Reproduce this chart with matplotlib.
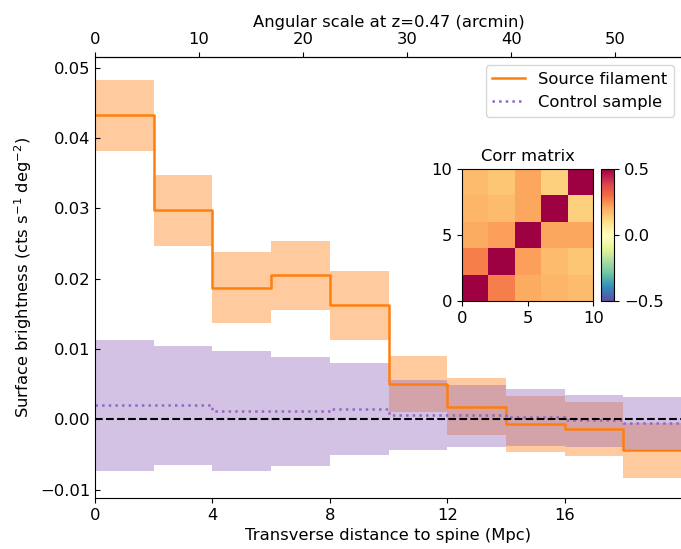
import numpy as np
import matplotlib
matplotlib.use("Agg")
import matplotlib.pyplot as plt

# Data
bin_edges = [0, 2, 4, 6, 8, 10, 12, 14, 16, 18, 20]
source_sb = [0.0432, 0.0297, 0.0187, 0.0205, 0.0162, 0.0050, 0.0018, -0.0007, -0.0014, -0.0044]
source_lo = [0.0382, 0.0247, 0.0137, 0.0156, 0.0113, 0.0010, -0.0022, -0.0046, -0.0053, -0.0083]
source_hi = [0.0482, 0.0348, 0.0238, 0.0253, 0.0211, 0.0090, 0.0058, 0.0033, 0.0024, -0.0005]
control_sb = [0.0020, 0.0020, 0.0011, 0.0011, 0.0014, 0.0006, 0.0006, 0.0003, -0.0001, -0.0006]
control_lo = [-0.0073, -0.0065, -0.0074, -0.0066, -0.0051, -0.0044, -0.0039, -0.0038, -0.0040, -0.0043]
control_hi = [0.0112, 0.0104, 0.0097, 0.0088, 0.0080, 0.0056, 0.0049, 0.0043, 0.0035, 0.0031]
corr_matrix = [[1.00, 0.27, 0.20, 0.18, 0.17],
               [0.27, 1.00, 0.22, 0.17, 0.15],
               [0.20, 0.22, 1.00, 0.21, 0.21],
               [0.18, 0.17, 0.21, 1.00, 0.13],
               [0.17, 0.15, 0.21, 0.13, 1.00]]
arcmin_per_mpc = 2.82

FS = 11.8

def step_arr(v):
    return list(v) + [v[-1]]

fig = plt.figure(figsize=(6.81, 5.49), dpi=100)
ax = fig.add_axes([0.1395, 0.093, 0.862, 0.803])

ax.fill_between(bin_edges, step_arr(source_lo), step_arr(source_hi), step='post',
                color='tab:orange', alpha=0.4, linewidth=0)
ax.fill_between(bin_edges, step_arr(control_lo), step_arr(control_hi), step='post',
                color='tab:purple', alpha=0.4, linewidth=0)
ax.step(bin_edges, step_arr(source_sb), where='post', color='tab:orange', lw=1.8,
        label='Source filament')
ax.step(bin_edges, step_arr(control_sb), where='post', color='tab:purple', lw=1.8,
        ls=':', label='Control sample')
ax.axhline(0, color='black', ls='--', lw=1.5)

ax.set_xlim(0, 20)
ax.set_ylim(-0.0112, 0.0515)
ax.set_xticks([0, 4, 8, 12, 16])
ax.set_yticks([-0.01, 0.0, 0.01, 0.02, 0.03, 0.04, 0.05])
ax.tick_params(axis='y', direction='in', labelsize=FS)
ax.tick_params(axis='x', direction='out', labelsize=FS)
ax.set_xlabel('Transverse distance to spine (Mpc)', fontsize=FS)
ax.set_ylabel(r'Surface brightness (cts s$^{-1}$ deg$^{-2}$)', fontsize=FS)
ax.legend(loc='upper right', fontsize=FS)

sec = ax.secondary_xaxis('top', functions=(lambda x: x * arcmin_per_mpc,
                                          lambda x: x / arcmin_per_mpc))
sec.set_xticks([0, 10, 20, 30, 40, 50])
sec.tick_params(labelsize=FS)
sec.set_xlabel('Angular scale at z=0.47 (arcmin)', fontsize=FS)

# Inset
iax = fig.add_axes([461.7 / 681, 1 - 301 / 549, 131.6 / 681, 131.7 / 549])
im = iax.imshow(np.array(corr_matrix), origin='lower', extent=[0, 10, 0, 10],
                cmap='Spectral_r', vmin=-0.5, vmax=0.5)
iax.set_xticks([0, 5, 10])
iax.set_yticks([0, 5, 10])
iax.tick_params(labelsize=FS)
iax.set_title('Corr matrix', fontsize=FS)
cax = fig.add_axes([600.7 / 681, 1 - 301 / 549, 13.6 / 681, 131.7 / 549])
cb = fig.colorbar(im, cax=cax)
cb.set_ticks([-0.5, 0.0, 0.5])
cb.ax.tick_params(labelsize=FS)

fig.savefig('out.png', dpi=100)
